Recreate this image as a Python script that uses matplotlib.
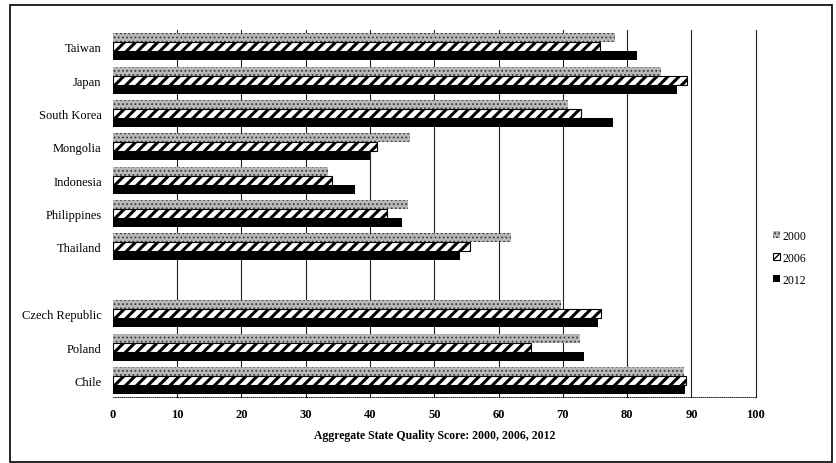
import numpy as np
import matplotlib
matplotlib.use("Agg")
import matplotlib.pyplot as plt
from matplotlib.patches import Rectangle

# country scores for each survey year
countries = ["Taiwan", "Japan", "South Korea", "Mongolia", "Indonesia", "Philippines",
             "Thailand", "", "Czech Republic", "Poland", "Chile"]
score_2000 = [78.1, 85.2, 70.8, 46.2, 33.5, 45.9, 62.0, np.nan, 69.7, 72.6, 88.8]
score_2006 = [75.7, 89.3, 72.8, 41.1, 34.1, 42.6, 55.5, np.nan, 75.9, 65.0, 89.2]
score_2012 = [81.5, 87.7, 77.8, 40.0, 37.6, 45.0, 54.0, np.nan, 75.4, 73.3, 89.0]
years = ["2000", "2006", "2012"]
xticks = np.arange(0, 101, 10)

plt.rcParams['font.family'] = ['Liberation Serif', 'DejaVu Serif']
plt.rcParams['font.size'] = 9

fig = plt.figure(figsize=(8.36, 4.64), dpi=100)
ax = fig.add_axes([0.135, 0.142, 0.769, 0.791])

y = np.arange(len(countries))[::-1].astype(float)
h = 0.27

with plt.rc_context({'hatch.linewidth': 0.8}):
    ax.barh(y + h, score_2000, height=h, color='#b8b8b8', edgecolor='#3a3a3a',
            hatch='....', linewidth=0, label=years[0], zorder=3)
with plt.rc_context({'hatch.linewidth': 2.2}):
    ax.barh(y, score_2006, height=h, color='white', edgecolor='black',
            hatch='///', linewidth=0.8, label=years[1], zorder=3)
ax.barh(y - h, score_2012, height=h, color='black', edgecolor='black',
        linewidth=0, label=years[2], zorder=3)

ax.set_xlim(0, 100)
ax.set_ylim(-0.5, len(countries) - 0.5)
ax.set_xticks(xticks)
ax.set_xticklabels([str(t) for t in xticks], fontweight='bold')
ax.set_yticks(y)
ax.set_yticklabels(countries)
ax.tick_params(length=0, pad=8)
ax.set_xlabel("Aggregate State Quality Score: 2000, 2006, 2012", fontweight='bold',
              fontsize=8.5, labelpad=6)

for t in xticks[1:]:
    ax.axvline(t, color='#202020', linewidth=0.8, zorder=1, clip_on=False)
for side in ['top', 'right', 'left']:
    ax.spines[side].set_visible(False)
ax.spines['bottom'].set_linestyle((0, (1, 1.5)))
ax.spines['bottom'].set_linewidth(0.6)

leg = ax.legend(loc='center left', bbox_to_anchor=(1.01, 0.38), frameon=False,
                handlelength=0.6, handleheight=0.6, handletextpad=0.2,
                labelspacing=0.85, fontsize=8.5)

# outer frame
fig.patches.append(Rectangle((0.012, 0.002), 0.983, 0.986, transform=fig.transFigure,
                             fill=False, edgecolor='black', linewidth=1.2))

fig.savefig("out.png", dpi=100)
